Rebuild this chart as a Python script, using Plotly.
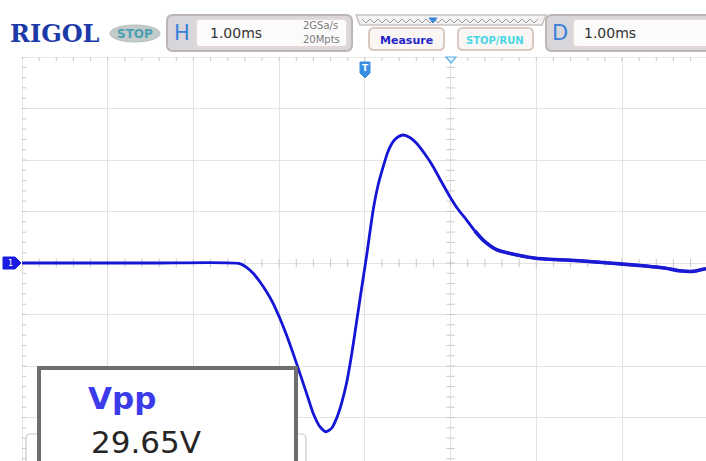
import plotly.graph_objects as go
import numpy as np

W, H = 706, 461

# ---- data: time in ms relative to trigger, voltage in V
time_ms = [-4.0, -2.5, -1.459, -1.380, -1.303, -1.225, -1.147, -1.070, -0.992, -0.914,
           -0.837, -0.758, -0.680, -0.603, -0.525, -0.455, -0.389, -0.330, -0.272,
           -0.214, -0.155, -0.097, -0.039, 0.020, 0.097, 0.152, 0.214, 0.268, 0.330,
           0.385, 0.447, 0.525, 0.603, 0.700, 0.797, 0.895, 0.992, 1.085, 1.187,
           1.284, 1.380, 1.529, 1.723, 1.995, 2.501, 2.890, 3.279, 3.512, 3.667,
           3.824, 3.979]
volts = [0.0, 0.0, -0.05, -0.42, -1.00, -1.82, -2.78, -3.91, -5.37, -6.99,
         -8.77, -10.71, -12.65, -14.59, -15.89, -16.38, -16.05, -15.08, -13.62,
         -11.68, -8.93, -5.73, -2.52, 0.68, 5.15, 7.48, 9.35, 10.78, 11.78,
         12.23, 12.43, 12.18, 11.62, 10.58, 9.35, 7.86, 6.44, 5.24, 4.17,
         3.11, 2.23, 1.33, 0.87, 0.46, 0.22, -0.03, -0.29, -0.51, -0.75,
         -0.81, -0.55]

vpp_label = "Vpp"
vpp_value = "29.65V"
timebase = "1.00ms"
sample_rate = "2GSa/s"
mem_depth = "20Mpts"
delay_value = "1.00ms"

x_range = [-4.0, 3.98]
y_range = [-19.22, 20.0]


def X(p):
    return p / W


def Y(p):
    return 1 - p / H


def rrect(x0, y0, x1, y1, r):
    return (f"M {X(x0 + r)},{Y(y0)} L {X(x1 - r)},{Y(y0)} Q {X(x1)},{Y(y0)} {X(x1)},{Y(y0 + r)} "
            f"L {X(x1)},{Y(y1 - r)} Q {X(x1)},{Y(y1)} {X(x1 - r)},{Y(y1)} "
            f"L {X(x0 + r)},{Y(y1)} Q {X(x0)},{Y(y1)} {X(x0)},{Y(y1 - r)} "
            f"L {X(x0)},{Y(y0 + r)} Q {X(x0)},{Y(y0)} {X(x0 + r)},{Y(y0)} Z")


def poly(pts):
    return "M " + " L ".join(f"{X(a)},{Y(b)}" for a, b in pts) + " Z"


def pshape(path, fill, line="rgba(0,0,0,0)", width=1, layer="above"):
    return dict(type="path", xref="paper", yref="paper", path=path, fillcolor=fill,
                line=dict(color=line, width=width), layer=layer)


fig = go.Figure()

# graticule minor ticks
tick_col = "#c9c9c9"
tx = np.arange(-4.0, 4.0, 0.2)
vy = np.arange(-19.0, 20.01, 1.0)
for xs, ys, sym in [(tx, [0] * len(tx), "line-ns"), (tx, [20] * len(tx), "line-ns"),
                    ([1.0] * len(vy), vy, "line-ew"), ([-4.0] * len(vy), vy, "line-ew")]:
    fig.add_trace(go.Scatter(x=xs, y=ys, mode="markers", hoverinfo="skip",
                             marker=dict(symbol=sym, size=6, line=dict(width=1, color=tick_col))))

# waveform
fig.add_trace(go.Scatter(x=time_ms, y=volts, mode="lines",
                         line=dict(color="#1515d6", width=2.8, shape="spline", smoothing=0.6),
                         hoverinfo="skip"))
# the slowly decaying tail is drawn thicker (noisy trace on the scope)
tail_start = 39
fig.add_trace(go.Scatter(x=time_ms[tail_start:], y=volts[tail_start:], mode="lines",
                         line=dict(color="#1a1ad4", width=3.6, shape="spline", smoothing=0.6),
                         hoverinfo="skip"))

shapes = []
# graticule borders
shapes.append(dict(type="line", xref="x", yref="y", x0=-4, x1=-4, y0=y_range[0], y1=20,
                   line=dict(color="#d4d4d4", width=1), layer="below"))
shapes.append(dict(type="line", xref="x", yref="y", x0=-4, x1=x_range[1], y0=20, y1=20,
                   line=dict(color="#d4d4d4", width=1), layer="below"))

# ---- header
shapes.append(dict(type="circle", xref="paper", yref="paper", x0=X(110), x1=X(160), y0=Y(42), y1=Y(25),
                   fillcolor="#c3caca", line=dict(color="#b5bcbc", width=1), layer="above"))
# H panel
shapes.append(pshape(rrect(167, 15, 352, 51, 6), "#d8d6da", "#bdb5b5", 2))
shapes.append(pshape(rrect(196, 19, 347, 47, 4), "#fcfbfb", "#e2d8d8", 2))
# wavy memory bar
shapes.append(pshape(poly([(356, 15), (546, 15), (542, 25), (360, 25)]), "#f3f1f1", "#c9c2c2", 1.5))
zig = []
for i, xx in enumerate(range(362, 541, 4)):
    zig.append((xx, 19 if i % 2 == 0 else 23))
shapes.append(dict(type="path", xref="paper", yref="paper",
                   path="M " + " L ".join(f"{X(a)},{Y(b)}" for a, b in zig),
                   line=dict(color="#9c9c9c", width=1), layer="above"))
shapes.append(pshape(poly([(429, 18), (437, 18), (433, 23)]), "#3a86d6", "#3a86d6", 1))
# Measure & STOP/RUN buttons
shapes.append(pshape(rrect(369, 28, 444, 50, 5), "#faf6f4", "#d9c9c1", 2))
shapes.append(pshape(rrect(458, 28, 533, 50, 5), "#faf6f4", "#d9c9c1", 2))
# D panel
shapes.append(pshape(rrect(546, 15, 712, 51, 6), "#d8d6da", "#bdb5b5", 2))
shapes.append(pshape(rrect(573, 19, 712, 47, 4), "#fcfbfb", "#e2d8d8", 2))

# trigger markers
shapes.append(pshape(poly([(360, 62), (370, 62), (370, 73), (365, 78), (360, 73)]), "#3a8fe2", "#3a8fe2", 1))
shapes.append(pshape(poly([(446, 57), (456, 57), (451, 63)]), "#eaf4fc", "#5fb0ea", 1.2))
# channel 1 marker
shapes.append(pshape(poly([(3, 257), (15, 257), (21, 263), (15, 269), (3, 269)]), "#1a1ae2", "#1a1ae2", 1))

# Vpp measurement box
shapes.append(pshape(rrect(26, 434, 306, 475, 5), "#ffffff", "#c9c9c9", 1.2))
shapes.append(pshape(poly([(39, 368), (296, 368), (296, 475), (39, 475)]), "#ffffff", "#6e6e6e", 4))

ann = []


def txt(x, y, s, size, color, family="DejaVu Sans", xanchor="left", bold=False):
    ann.append(dict(x=X(x), y=Y(y), xref="paper", yref="paper", text=(f"<b>{s}</b>" if bold else s),
                    showarrow=False, xanchor=xanchor, yanchor="middle",
                    font=dict(size=size, color=color, family=family)))


txt(8, 33, "RIGOL", 24, "#1b3aa8", family="DejaVu Serif", bold=True)
txt(135, 34, "STOP", 12, "#4a9fb3", xanchor="center", bold=True)
txt(182, 33, "H", 21, "#3a80d8", xanchor="center")
txt(208, 33, timebase, 14, "#333333")
txt(320, 25, sample_rate, 10, "#7a7a7a", xanchor="center")
txt(321, 39, mem_depth, 10, "#7a7a7a", xanchor="center")
txt(406, 40, "Measure", 11, "#2626c8", xanchor="center", bold=True)
txt(495, 40, "STOP/RUN", 10, "#48d6e6", xanchor="center", bold=True)
txt(560, 33, "D", 21, "#3a80d8", xanchor="center")
txt(582, 33, delay_value, 14, "#333333")
txt(365, 68, "T", 9, "#ffffff", xanchor="center", bold=True)
txt(10, 263, "1", 8, "#ffffff", xanchor="center")
txt(86, 398, vpp_label, 31, "#3b3bea", bold=True)
txt(89, 442, vpp_value, 31, "#262626")

fig.update_layout(
    width=W, height=H,
    margin=dict(l=0, r=0, t=0, b=0),
    paper_bgcolor="#ffffff", plot_bgcolor="#ffffff",
    showlegend=False,
    shapes=shapes, annotations=ann,
    xaxis=dict(domain=[22 / W, 1], range=x_range, tick0=0, dtick=1, showgrid=True,
               gridcolor="#e3e3e3", gridwidth=1, zeroline=False, showticklabels=False,
               ticks="", showline=False, fixedrange=True),
    yaxis=dict(domain=[0, 1 - 57 / H], range=y_range, tick0=0, dtick=5, showgrid=True,
               gridcolor="#e3e3e3", gridwidth=1, zeroline=False, showticklabels=False,
               ticks="", showline=False, fixedrange=True),
)

fig.write_html("out.html", config={"displayModeBar": False},
               post_script="document.body.style.margin='0';")
